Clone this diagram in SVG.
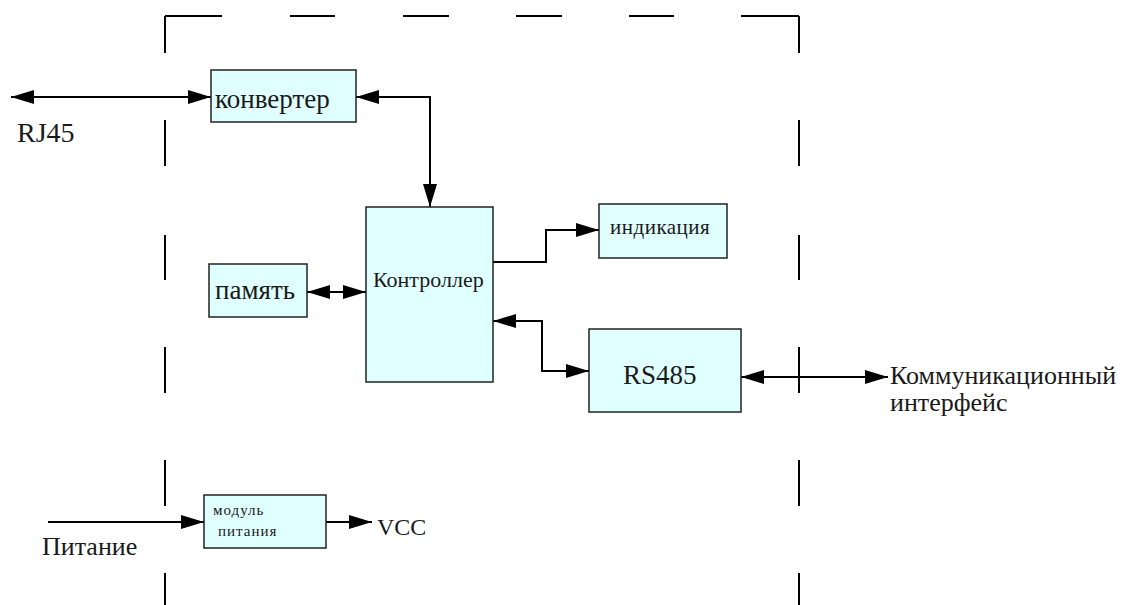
<svg xmlns="http://www.w3.org/2000/svg" width="1122" height="605" viewBox="0 0 1122 605">
<defs>
<marker id="ah" markerUnits="userSpaceOnUse" markerWidth="23" markerHeight="14" refX="23" refY="7" orient="auto-start-reverse">
<path d="M0,0 L23,7 L0,14 z" fill="#000"/>
</marker>
<style>
.box{fill:#e0ffff;stroke:#222;stroke-width:1.5}
.t{font-family:"Liberation Serif","Times New Roman",serif;fill:#1a1a1a}
.c{fill:none;stroke:#000;stroke-width:2}
.bd{fill:none;stroke:#000;stroke-width:2}
</style>
</defs>
<rect width="1122" height="605" fill="#fff"/>
<g id="border">
<path class="bd" d="M165,16 V53 M165,120 V166 M165,235 V280 M165,347 V393 M165,460 V506 M165,573 V605 M799,16 V53 M799,120 V166 M799,235 V280 M799,347 V393 M799,460 V506 M799,573 V605 M165,16 H222 M290,16 H335 M403,16 H449 M516,16 H562 M629,16 H674 M741,16 H799"/>
</g>
<g id="connectors">
<path class="c" d="M211,97 H11" marker-start="url(#ah)" marker-end="url(#ah)"/>
<path class="c" d="M356,97 H430 V207" marker-start="url(#ah)" marker-end="url(#ah)"/>
<path class="c" d="M307,292 H366" marker-start="url(#ah)" marker-end="url(#ah)"/>
<path class="c" d="M493,262 H546 V230 H599" marker-end="url(#ah)"/>
<path class="c" d="M493,321 H542 V371 H589" marker-start="url(#ah)" marker-end="url(#ah)"/>
<path class="c" d="M741,377 H888" marker-start="url(#ah)" marker-end="url(#ah)"/>
<path class="c" d="M48,522 H204" marker-end="url(#ah)"/>
<path class="c" d="M326,522 H372" marker-end="url(#ah)"/>
</g>
<g id="converter">
<rect class="box" x="211" y="70" width="145" height="52"/>
<text class="t" x="215" y="108" font-size="27">конвертер</text>
</g>
<g id="controller">
<rect class="box" x="366" y="207" width="127" height="175"/>
<text class="t" x="373" y="287" font-size="22">Контроллер</text>
</g>
<g id="memory">
<rect class="box" x="209" y="264" width="98" height="53"/>
<text class="t" x="215" y="299" font-size="27">память</text>
</g>
<g id="indication">
<rect class="box" x="599" y="204" width="128" height="54"/>
<text class="t" x="610" y="234" font-size="21" letter-spacing="0.5">индикация</text>
</g>
<g id="rs485">
<rect class="box" x="589" y="329" width="152" height="83"/>
<text class="t" x="623" y="384" font-size="27">RS485</text>
</g>
<g id="power">
<rect class="box" x="204" y="495" width="122" height="53"/>
<text class="t" x="213" y="515" font-size="15" letter-spacing="1">модуль</text>
<text class="t" x="218" y="536" font-size="15" letter-spacing="1">питания</text>
</g>
<g id="labels">
<text class="t" x="17" y="142" font-size="28">RJ45</text>
<text class="t" x="890" y="384" font-size="26">Коммуникационный</text>
<text class="t" x="890" y="411" font-size="26">интерфейс</text>
<text class="t" x="42" y="555" font-size="26">Питание</text>
<text class="t" x="377" y="535" font-size="24">VCC</text>
</g>
</svg>
